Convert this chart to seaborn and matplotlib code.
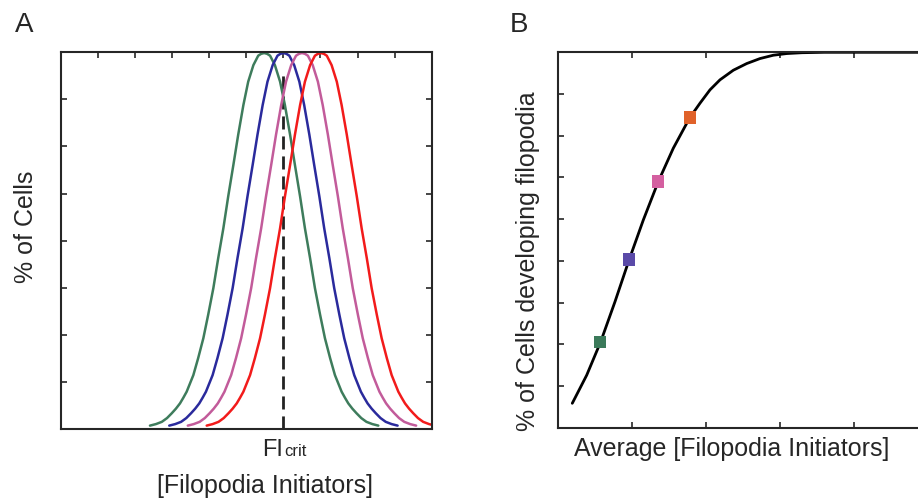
import numpy as np
import pandas as pd
import matplotlib
matplotlib.use("Agg")
import matplotlib.pyplot as plt
import seaborn as sns

# ==========================================
# 1. DADOS
# ==========================================
# Painel A: perfil de uma curva (deslocamento em relação ao pico, altura)
perfil_offset = [-0.308, -0.292, -0.276, -0.262, -0.249, -0.238, -0.227, -0.218,
                 -0.209, -0.191, -0.178, -0.164, -0.151, -0.137, -0.124, -0.110,
                 -0.097, -0.083, -0.070, -0.056, -0.043, -0.029, -0.016, -0.008, 0.0]
perfil_altura = [0.009, 0.013, 0.019, 0.029, 0.042, 0.054, 0.068, 0.083,
                 0.099, 0.143, 0.188, 0.241, 0.303, 0.374, 0.453, 0.533,
                 0.617, 0.701, 0.781, 0.860, 0.922, 0.966, 0.991, 0.996, 0.998]
centros = [0.548, 0.600, 0.650, 0.701]
nomes_curvas = ["verde", "azul", "rosa", "vermelho"]
cores_a = ["#3e7c5c", "#2a2a9c", "#c25b9a", "#f21b1b"]
fi_crit = 0.60

# Painel B: curva média e pontos
media_x = [0.197, 0.392, 0.581, 0.774, 0.964, 1.157, 1.359, 1.562, 1.784,
           1.923, 2.058, 2.193, 2.373, 2.554, 2.734, 2.914, 3.095, 3.3, 3.6, 5.0]
celulas_y = [0.585, 1.26, 2.06, 3.02, 4.02, 4.98, 5.90, 6.70, 7.43,
             7.78, 8.10, 8.34, 8.57, 8.73, 8.85, 8.93, 8.97, 8.99, 9.0, 9.0]
pontos_x = [0.575, 0.966, 1.359, 1.786]
pontos_y = [2.05, 4.03, 5.90, 7.44]
cores_pontos = ["#3b7a5a", "#5a4aa8", "#d45fa0", "#e0622a"]

# monta curvas completas (perfil espelhado)
off_full = perfil_offset + [-o for o in perfil_offset[-2::-1]]
alt_full = perfil_altura + perfil_altura[-2::-1]
linhas = []
for c, nome in zip(centros, nomes_curvas):
    for o, h in zip(off_full, alt_full):
        linhas.append({"x": c + o, "y": h, "curva": nome})
df_a = pd.DataFrame(linhas)
df_b = pd.DataFrame({"x": media_x, "y": celulas_y})
df_p = pd.DataFrame({"x": pontos_x, "y": pontos_y, "grupo": nomes_curvas})

# ==========================================
# 2. CONFIGURAÇÃO
# ==========================================
sns.set_theme(style="ticks")
plt.rcParams["font.family"] = ["Liberation Sans", "DejaVu Sans"]
plt.rcParams["axes.linewidth"] = 1.5
plt.rcParams["lines.solid_joinstyle"] = "round"

W, H = 918, 498
fig = plt.figure(figsize=(W / 100, H / 100), dpi=100)

def px(x, y):
    return x / W, 1 - y / H

axA = fig.add_axes([61 / W, 1 - 429 / H, 370.7 / W, 376.7 / H])
axB = fig.add_axes([557.7 / W, 1 - 427.7 / H, 370 / W, 375.4 / H])

# ==========================================
# 3. PAINEL A
# ==========================================
axA.axvline(fi_crit, ymax=0.95, color="#222222", lw=2.0, dashes=(4.7, 2.5), zorder=1)
sns.lineplot(data=df_a, x="x", y="y", hue="curva", palette=cores_a,
             hue_order=nomes_curvas, sort=False, estimator=None,
             lw=1.8, legend=False, ax=axA, zorder=2)
axA.set_xlim(0, 1)
axA.set_ylim(0, 1)
axA.set_xticks(np.arange(1, 10) / 10)
axA.set_yticks(np.arange(1, 8) / 8)
axA.tick_params(direction="in", length=4, width=1.2, bottom=False, top=True,
                left=True, right=True, labelbottom=False, labelleft=False)
axA.set_xlabel("")
axA.set_ylabel("")

fig.text(*px(283.0, 456), "FI", fontsize=17, ha="right", va="baseline")
fig.text(*px(284.5, 456), "crit", fontsize=12, ha="left", va="baseline")
fig.text(*px(265, 492.7), "[Filopodia Initiators]", fontsize=18, ha="center", va="baseline")
fig.text(*px(33, 227), "% of Cells", fontsize=18, rotation=90,
         rotation_mode="anchor", ha="center", va="baseline")
fig.text(*px(15, 32.3), "A", fontsize=20, ha="left", va="baseline")

# ==========================================
# 4. PAINEL B
# ==========================================
sns.lineplot(data=df_b, x="x", y="y", color="black", lw=2.0, sort=False,
             estimator=None, ax=axB, zorder=2)
sns.scatterplot(data=df_p, x="x", y="y", hue="grupo", palette=cores_pontos,
                hue_order=nomes_curvas, marker="s", s=80, edgecolor="none",
                legend=False, ax=axB, zorder=3)
axB.set_xlim(0, 5)
axB.set_ylim(0, 9)
axB.set_xticks([1, 2, 3, 4])
axB.set_yticks(np.arange(1, 9))
axB.tick_params(direction="in", length=4, width=1.2, bottom=True, top=True,
                left=True, right=True, labelbottom=False, labelleft=False)
axB.set_xlabel("")
axB.set_ylabel("")

fig.text(*px(731.7, 456), "Average [Filopodia Initiators]", fontsize=18,
         ha="center", va="baseline")
fig.text(*px(535, 261), "% of Cells developing filopodia", fontsize=18, rotation=90,
         rotation_mode="anchor", ha="center", va="baseline")
fig.text(*px(510, 32), "B", fontsize=20, ha="left", va="baseline")

plt.savefig("out.png", dpi=100)
